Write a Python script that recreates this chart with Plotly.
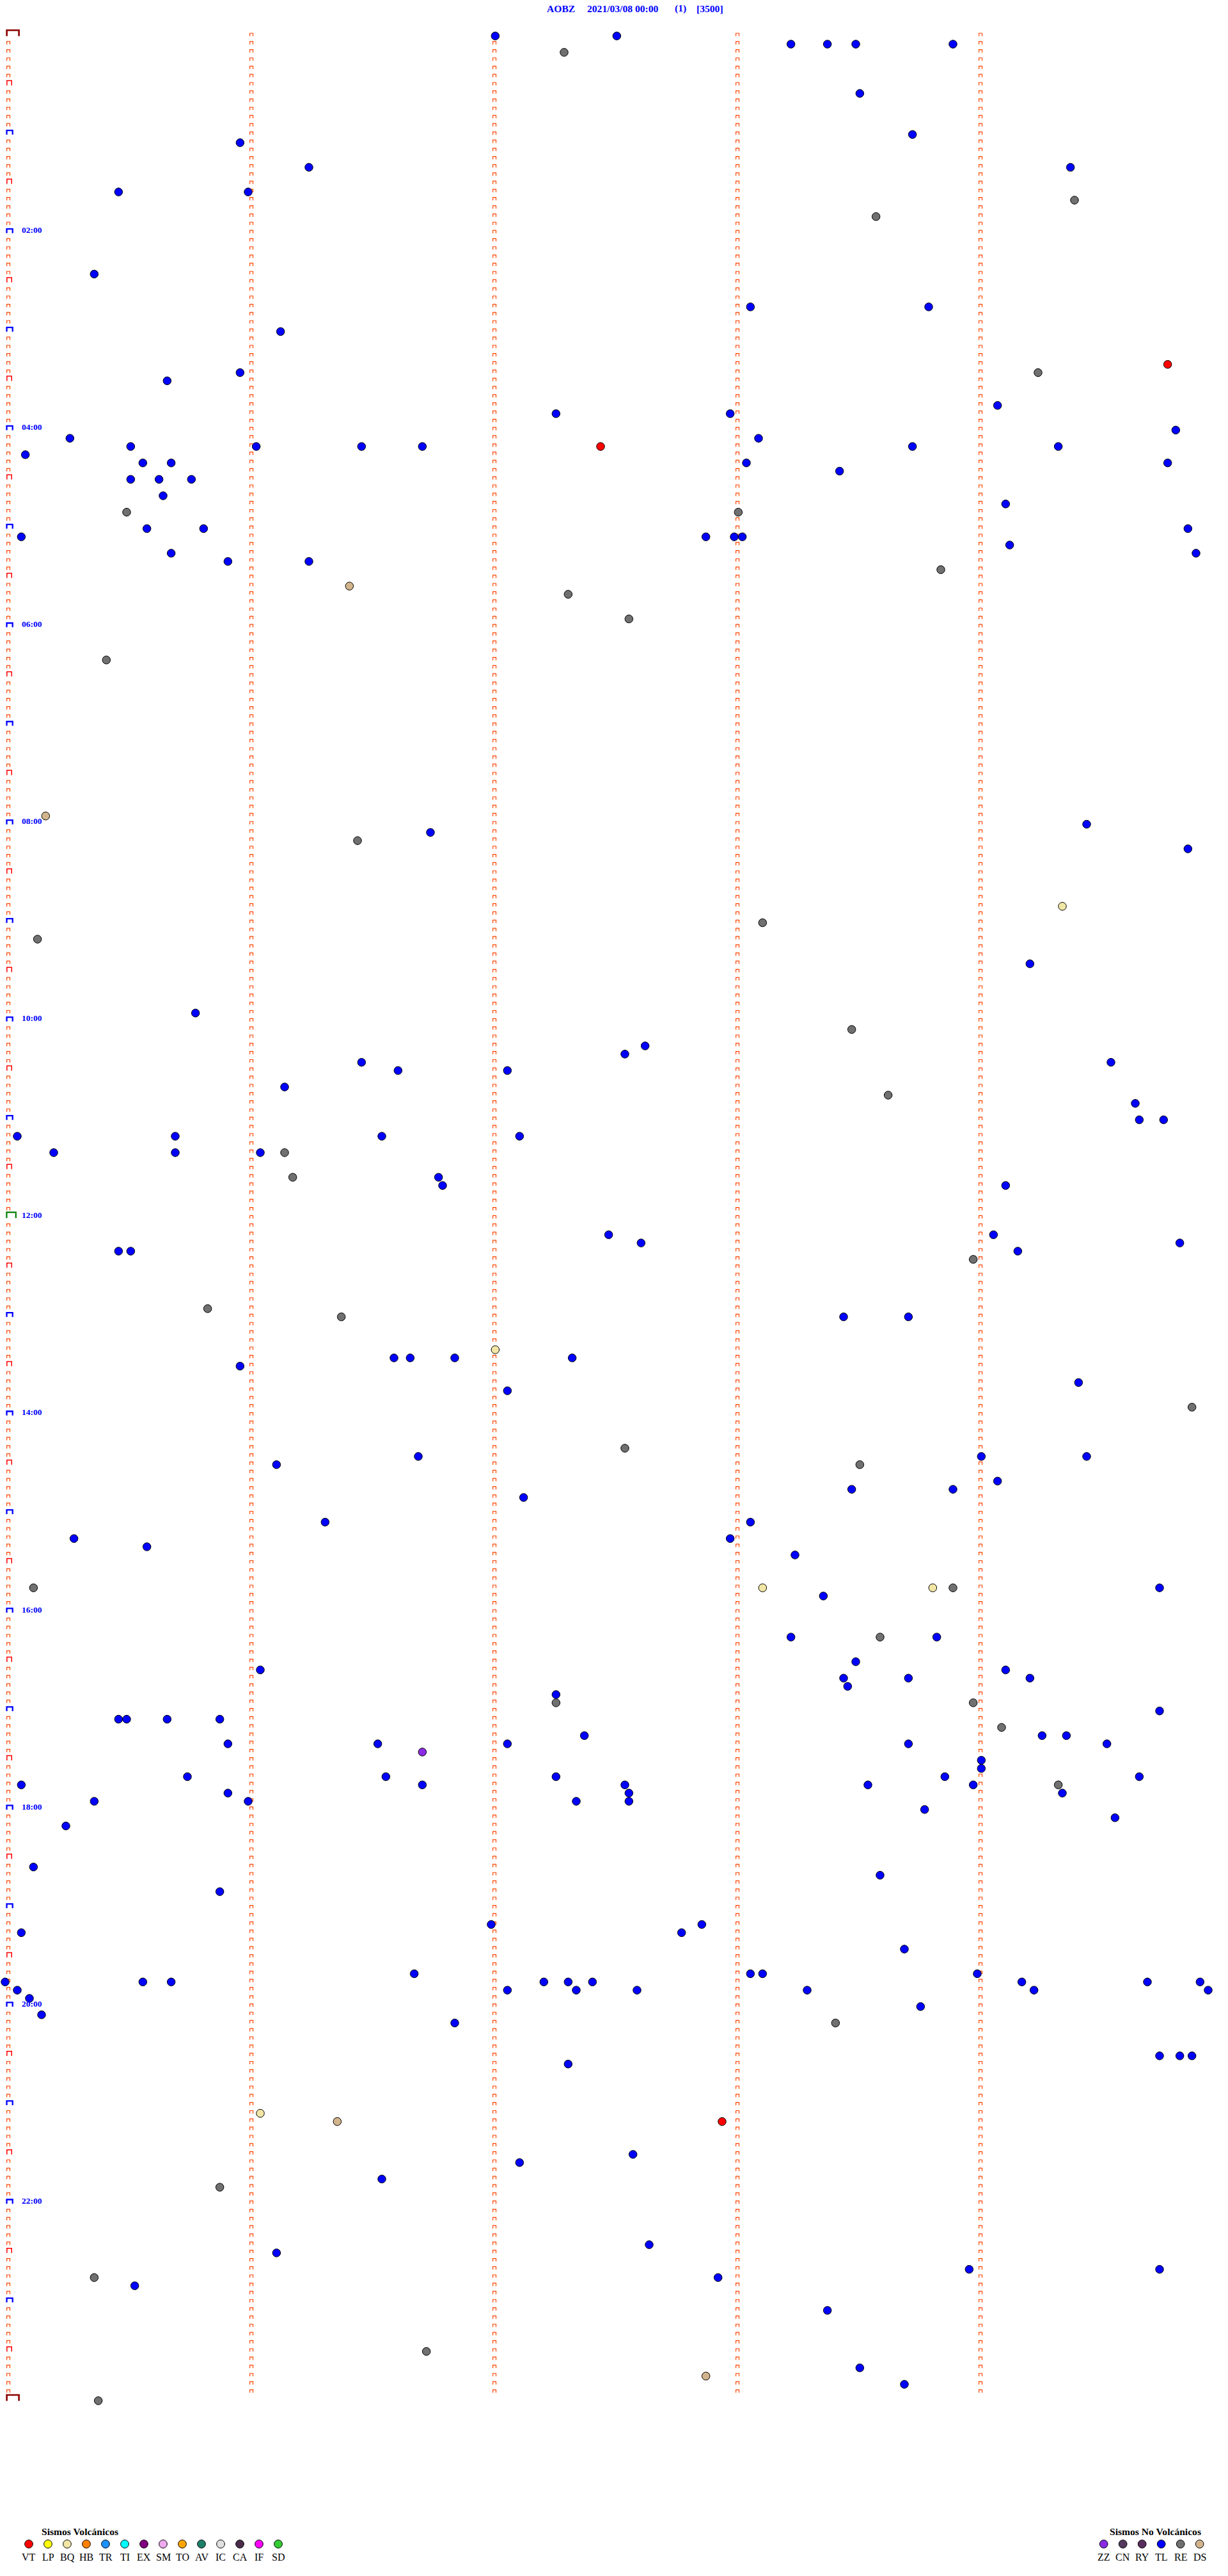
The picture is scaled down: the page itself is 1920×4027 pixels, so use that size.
import plotly.graph_objects as go

# ---------------- data ----------------
station = "AOBZ"
date_label = "2021/03/08 00:00"
page_label = "(1)"
scale_label = "[3500]"

volc_types = ["VT", "LP", "BQ", "HB", "TR", "TI", "EX", "SM", "TO", "AV", "IC", "CA", "IF", "SD"]
volc_colors = ["#FF0000", "#FFFF00", "#F2E6A6", "#FF8000", "#1E90FF", "#00FFFF", "#800080",
               "#EEAAEE", "#FFA500", "#1E806A", "#E0E0E0", "#4A2C4A", "#FF00FF", "#33CC33"]
novolc_types = ["ZZ", "CN", "RY", "TL", "RE", "DS"]
novolc_colors = ["#8A2BE2", "#553A5F", "#5A2E5A", "#0000FF", "#707070", "#D2B48C"]

hour_labels = ["02:00", "04:00", "06:00", "08:00", "10:00", "12:00",
               "14:00", "16:00", "18:00", "20:00", "22:00"]

events_TL = [
    "00:02:01", "00:02:31", "00:08:14", "00:08:23", "00:08:30", "00:08:54", "00:38:31", "01:03:44",
    "01:05:58", "01:21:15", "01:24:23", "01:35:28", "01:36:00", "02:25:22", "02:48:04", "02:48:48",
    "03:01:08", "03:25:58", "03:30:40", "03:49:05", "03:52:16", "03:52:59", "04:04:49", "04:05:16",
    "04:08:06", "04:10:31", "04:11:02", "04:11:28", "04:11:43", "04:13:44", "04:14:20", "04:15:05",
    "04:20:34", "04:20:41", "04:23:03", "04:24:47", "04:28:26", "04:30:31", "04:30:38", "04:30:46",
    "04:40:39", "04:49:07", "05:00:35", "05:00:49", "05:04:52", "05:05:04", "05:07:53", "05:08:00",
    "05:08:02", "05:14:08", "05:15:41", "05:19:54", "05:20:55", "05:21:15", "08:04:27", "08:06:45",
    "08:19:52", "09:29:13", "09:55:47", "10:17:38", "10:22:33", "10:26:28", "10:29:33", "10:31:37",
    "10:32:04", "10:41:09", "10:54:39", "11:04:40", "11:04:46", "11:10:03", "11:10:42", "11:11:33",
    "11:12:07", "11:20:12", "11:20:42", "11:21:03", "11:36:47", "11:41:48", "11:44:07", "12:12:29",
    "12:14:04", "12:17:37", "12:19:50", "12:20:28", "12:20:31", "12:24:10", "13:03:27", "13:03:43",
    "13:26:36", "13:26:40", "13:26:51", "13:27:20", "13:30:58", "13:44:25", "13:47:04", "14:26:42",
    "14:29:01", "14:29:27", "14:31:07", "14:44:05", "14:48:29", "14:48:54", "14:52:08", "15:06:19",
    "15:08:04", "15:15:17", "15:17:59", "15:20:35", "15:28:15", "15:49:45", "15:53:22", "16:18:14",
    "16:18:50", "16:33:30", "16:36:03", "16:39:07", "16:43:27", "16:43:43", "16:44:13", "16:48:28",
    "16:52:16", "17:04:45", "17:05:28", "17:05:30", "17:05:40", "17:05:53", "17:17:23", "17:19:16",
    "17:19:22", "17:20:55", "17:21:32", "17:22:04", "17:23:43", "17:24:32", "17:34:01", "17:39:01",
    "17:40:45", "17:41:34", "17:42:16", "17:43:52", "17:44:40", "17:45:04", "17:46:43", "17:47:33",
    "17:48:33", "17:48:59", "17:52:34", "17:50:55", "17:54:21", "17:56:00", "17:55:22", "17:57:21",
    "17:57:34", "18:03:47", "18:09:34", "18:10:15", "18:35:07", "18:43:36", "18:50:53", "19:12:00",
    "19:12:52", "19:15:04", "19:17:47", "19:28:42", "19:41:41", "19:43:04", "19:43:07", "19:44:00",
    "19:45:00", "19:45:34", "19:45:41", "19:47:13", "19:47:19", "19:47:25", "19:49:11", "19:49:42",
    "19:49:55", "19:50:03", "19:52:04", "19:52:21", "19:52:36", "19:53:18", "19:54:14", "19:54:57",
    "19:55:06", "20:05:09", "20:03:46", "20:11:51", "20:34:45", "20:34:50", "20:34:53", "20:37:19",
    "21:32:35", "21:37:07", "21:46:33", "22:27:39", "22:31:07", "22:43:58", "22:44:45", "22:47:56",
    "22:50:32", "23:08:23", "23:43:31", "23:53:42",
]
events_RE = [
    "00:12:18", "01:44:24", "01:53:35", "03:29:15", "04:50:30", "04:53:01", "05:28:51", "05:42:19",
    "05:57:34", "06:20:25", "08:11:27", "09:03:07", "09:10:08", "10:08:29", "10:48:38", "11:21:09",
    "11:36:11", "12:28:59", "12:55:50", "13:01:23", "13:59:53", "14:22:33", "14:33:31", "15:45:07",
    "15:48:54", "16:18:36", "16:57:16", "16:58:59", "17:14:06", "17:49:20", "20:13:25", "21:50:53",
    "22:45:22", "23:31:44", "24:00:23",
]
events_DS = ["05:36:25", "07:55:10", "21:11:22", "23:47:53"]
events_BQ = ["08:54:21", "13:22:01", "15:48:07", "15:48:49", "21:06:03"]
events_VT = ["03:24:47", "04:12:27", "21:12:57"]
events_ZZ = ["17:26:43"]

# ---------------- geometry ----------------
W, H = 1920, 4027
PX_PER_SEC = 380 / 60        # horizontal: one minute of trace = 380 px
ROW_MIN = 5                  # each row is five minutes
PX_PER_MIN = 12.836 / ROW_MIN
DOT_Y0 = 56.2                # page y of row 00:00
X0 = 8.0                     # page x of second 0

x_range = [(0 - X0) / PX_PER_SEC, (W - X0) / PX_PER_SEC]
y_range = [(H - DOT_Y0) / PX_PER_MIN, (0 - DOT_Y0) / PX_PER_MIN]


def to_sec(t):
    h, m, s = (int(v) for v in t.split(":"))
    return h * 3600 + m * 60 + s


def place(times):
    xs, ys = [], []
    for t in times:
        s = to_sec(t)
        row = s // (ROW_MIN * 60)
        xs.append(s - row * ROW_MIN * 60)
        ys.append(row * ROW_MIN)
    return xs, ys


fig = go.Figure()

# ---------------- minute brackets ----------------
n_rows = 24 * 60 // ROW_MIN


def bracket_trace(items, color, width, lpx, wpx, top, bot):
    xs, ys = [], []
    for row, col in items:
        x0 = (lpx - X0) / PX_PER_SEC + 60 * col
        x1 = x0 + wpx / PX_PER_SEC
        yc = row * ROW_MIN
        yt = yc + top / PX_PER_MIN
        yb = yc + bot / PX_PER_MIN
        xs += [x0, x0, x1, x1, None]
        ys += [yb, yt, yt, yb, None]
    return go.Scatter(x=xs, y=ys, mode="lines", line=dict(color=color, width=width),
                      hoverinfo="skip", showlegend=False)


small, half, hourly, noon, ends = [], [], [], [], []
for r in range(n_rows + 1):
    for c in range(5):
        if c == 0:
            if r == 0 or r == n_rows:
                ends.append((r, c))
            elif r == n_rows // 2:
                noon.append((r, c))
            elif r % 12 == 0:
                hourly.append((r, c))
            elif r % 6 == 0:
                half.append((r, c))
            else:
                small.append((r, c))
        elif r < n_rows:
            small.append((r, c))

fig.add_trace(bracket_trace(small, "#FF4500", 1.2, 10.6, 4.9, -4.2, 0.4))
fig.add_trace(bracket_trace(half, "#FF0000", 1.5, 10.8, 7.4, -7.2, 0.2))
fig.add_trace(bracket_trace(hourly, "#0000FF", 2.3, 10.5, 9.2, -6.4, 0.2))
fig.add_trace(bracket_trace(noon, "#008000", 2.2, 10.4, 14.4, -9.4, -0.3))
fig.add_trace(bracket_trace(ends, "#8B0000", 2.6, 10.6, 19.0, -8.9, 0.3))

# ---------------- events ----------------
type_color = dict(zip(volc_types + novolc_types, volc_colors + novolc_colors))
for name, times in [("TL", events_TL), ("RE", events_RE), ("DS", events_DS),
                    ("BQ", events_BQ), ("VT", events_VT), ("ZZ", events_ZZ)]:
    xs, ys = place(times)
    fig.add_trace(go.Scatter(x=xs, y=ys, mode="markers", name=name, showlegend=False,
                             marker=dict(size=12.5, color=type_color[name],
                                         line=dict(color="black", width=1))))

# ---------------- custom legend (page-pixel overlay axes) ----------------
LEG_Y_TITLE, LEG_Y_DOT, LEG_Y_TXT = 3957, 3977, 3997
vx = [45 + 30 * i for i in range(len(volc_types))]
nx = [1725.7 + 30 * i for i in range(len(novolc_types))]
fig.add_trace(go.Scatter(x=vx + nx, y=[LEG_Y_DOT] * (len(vx) + len(nx)), xaxis="x2", yaxis="y2",
                         mode="markers", showlegend=False, hoverinfo="skip",
                         marker=dict(size=12.7, color=volc_colors + novolc_colors,
                                     line=dict(color="black", width=1))))

SERIF = "Liberation Serif"
ann = []
for x, lab in zip(vx + nx, volc_types + novolc_types):
    ann.append(dict(x=x, y=LEG_Y_TXT, xref="x2", yref="y2", text=lab, showarrow=False,
                    xanchor="center", yanchor="middle",
                    font=dict(family=SERIF, size=16, color="black")))
ann.append(dict(x=63, y=LEG_Y_TITLE, xref="x2", yref="y2", text="<b>Sismos Volcánicos</b>",
                showarrow=False, xanchor="left", yanchor="middle",
                font=dict(family=SERIF, size=15.6, color="black")))
ann.append(dict(x=1733, y=LEG_Y_TITLE, xref="x2", yref="y2", text="<b>Sismos No Volcánicos</b>",
                showarrow=False, xanchor="left", yanchor="middle",
                font=dict(family=SERIF, size=15.6, color="black")))

# title pieces
for x, txt in [(853, station), (916, date_label), (1053, page_label), (1087, scale_label)]:
    ann.append(dict(x=x, y=13, xref="x2", yref="y2", text="<b>%s</b>" % txt, showarrow=False,
                    xanchor="left", yanchor="middle",
                    font=dict(family=SERIF, size=15.6, color="#0000FF")))

# hour labels
for lab in hour_labels:
    hh, mm = (int(v) for v in lab.split(":"))
    t = hh * 60 + mm
    ann.append(dict(x=32, y=t - 4.7 / PX_PER_MIN, xref="x2", yref="y", text="<b>%s</b>" % lab,
                    showarrow=False, xanchor="left", yanchor="middle",
                    font=dict(family=SERIF, size=13.5, color="#0000FF")))

ax_common = dict(visible=False, showgrid=False, zeroline=False, fixedrange=True)
fig.update_layout(
    width=W, height=H, autosize=False,
    margin=dict(l=0, r=0, t=0, b=0, pad=0),
    paper_bgcolor="white", plot_bgcolor="white",
    xaxis=dict(range=x_range, domain=[0, 1], **ax_common),
    yaxis=dict(range=y_range, domain=[0, 1], **ax_common),
    xaxis2=dict(range=[0, W], domain=[0, 1], overlaying="x", anchor="y2", **ax_common),
    yaxis2=dict(range=[H, 0], domain=[0, 1], overlaying="y", anchor="x2", **ax_common),
    annotations=ann,
    showlegend=False,
)

fig.write_html("out.html", config={"displayModeBar": False},
               post_script="document.body.style.margin='0px';")
